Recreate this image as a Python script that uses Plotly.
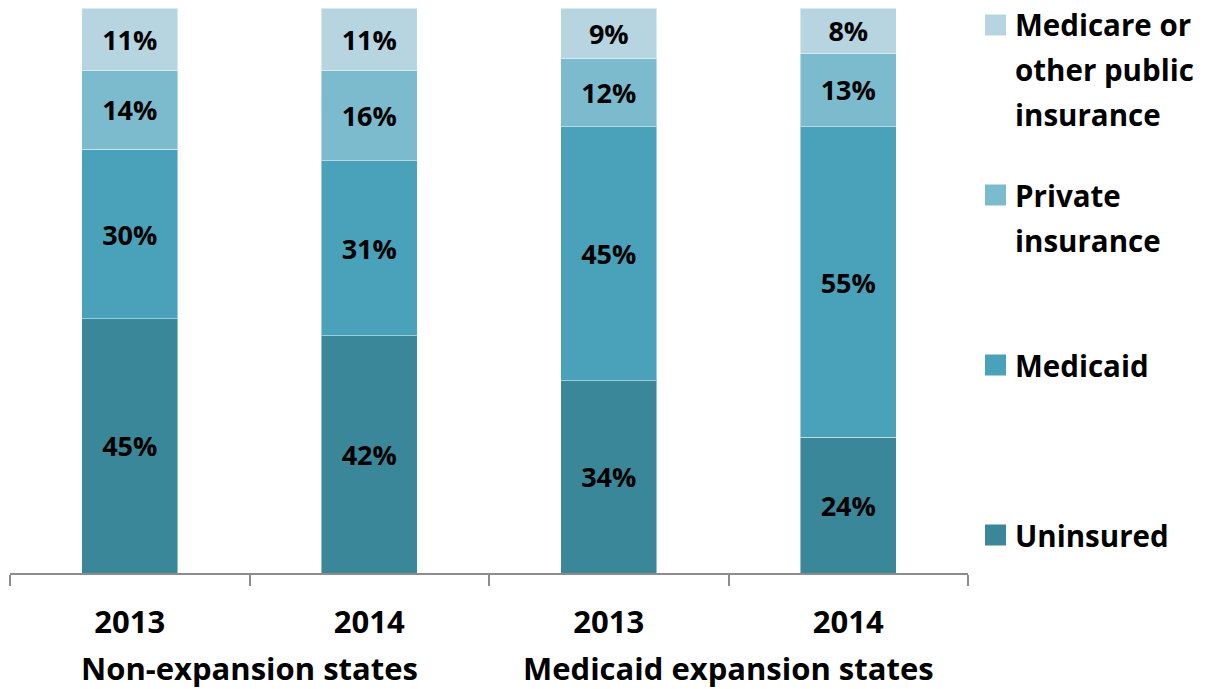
import plotly.graph_objects as go

years = ["2013", "2014", "2013", "2014"]
groups = ["Non-expansion states", "Medicaid expansion states"]
x_pos = [0, 1, 2, 3]

uninsured = [45, 42, 34, 24]
medicaid = [30, 31, 45, 55]
private = [14, 16, 12, 13]
medicare = [11, 11, 9, 8]

series = [
    ("Uninsured", uninsured, "#3B879A"),
    ("Medicaid", medicaid, "#4AA2BA"),
    ("Private insurance", private, "#7CBACE"),
    ("Medicare or other public insurance", medicare, "#B6D5E1"),
]

FONT = "Open Sans"

fig = go.Figure()
for name, vals, col in series:
    fig.add_trace(go.Bar(
        x=x_pos, y=vals, name=name, width=0.4,
        marker=dict(color=col, line=dict(color="rgba(255,255,255,0.45)", width=1)),
        text=[f"{v}%" for v in vals], textposition="inside",
        insidetextanchor="middle", textangle=0,
        textfont=dict(family=FONT, size=27, color="black", weight="bold"),
        showlegend=False,
    ))

# page body has an 8px margin, so the figure is sized/positioned to compensate
fig.update_layout(
    barmode="stack",
    width=1201, height=681,
    margin=dict(l=2, r=241, t=0, b=116, autoexpand=False),
    plot_bgcolor="white", paper_bgcolor="white",
    uniformtext=dict(minsize=27, mode="show"),
    xaxis=dict(
        range=[-0.5, 3.5], tickvals=x_pos, ticktext=years, ticks="",
        showline=True, linecolor="#8C8C8C", linewidth=1.5,
        showgrid=False, zeroline=False, automargin=False,
        tickfont=dict(family=FONT, size=31, color="black", weight="bold"),
        ticklabelstandoff=21,
        minor=dict(tickvals=[-0.5, 0.5, 1.5, 2.5, 3.5], ticks="outside",
                   ticklen=11, tickwidth=1.5, tickcolor="#8C8C8C", showgrid=False),
    ),
    yaxis=dict(range=[0, 100], visible=False, showgrid=False, zeroline=False,
               automargin=False),
)

# group labels
for gx, g in zip([0.5, 2.5], groups):
    fig.add_annotation(x=gx, xref="x", y=0, yref="paper", yshift=-95,
                       text=g, showarrow=False, yanchor="middle",
                       font=dict(family=FONT, size=31, color="black", weight="bold"))

# custom legend
legend_items = [
    (["Medicare or", "other public", "insurance"], "#B6D5E1", 25),
    (["Private", "insurance"], "#7CBACE", 195),
    (["Medicaid"], "#4AA2BA", 365),
    (["Uninsured"], "#3B879A", 535),
]
for lines, col, yc in legend_items:
    fig.add_shape(type="rect", xref="paper", yref="paper",
                  x0=(985 - 10) / 958, x1=(1006 - 10) / 958,
                  y0=(573 - (yc + 10.5)) / 565, y1=(573 - (yc - 10.5)) / 565,
                  fillcolor=col, line=dict(width=0))
    for i, ln in enumerate(lines):
        fig.add_annotation(x=(1016 - 10) / 958, xref="paper",
                           y=(573 - (yc + 45 * i)) / 565, yref="paper",
                           text=ln, showarrow=False, xanchor="left", yanchor="middle",
                           xshift=-3,
                           font=dict(family=FONT, size=29.5, color="black", weight="bold"))

fig.write_html("out.html")
